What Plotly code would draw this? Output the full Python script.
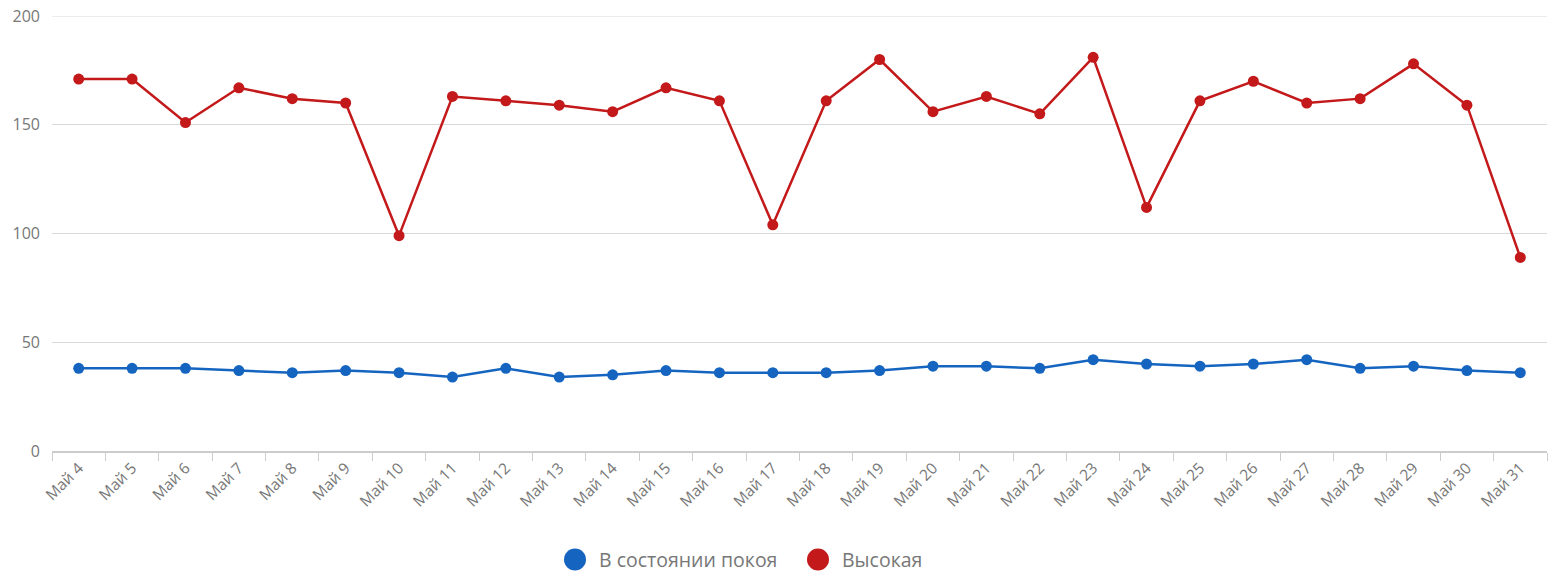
import plotly.graph_objects as go

days = list(range(4, 32))
categories = [f"Май {d}" for d in days]

rest_name = "В состоянии покоя"
rest_values = [38, 38, 38, 37, 36, 37, 36, 34, 38, 34, 35, 37, 36, 36, 36, 37, 39, 39, 38, 42, 40, 39, 40, 42, 38, 39, 37, 36]

high_name = "Высокая"
high_values = [171, 171, 151, 167, 162, 160, 99, 163, 161, 159, 156, 167, 161, 104, 161, 180, 156, 163, 155, 181, 112, 161, 170, 160, 162, 178, 159, 89]

y_ticks = [0, 50, 100, 150, 200]

BLUE = "#1565c0"
RED = "#c3191a"
FONT = "Open Sans, Noto Sans, sans-serif"
GRAY = "#777777"
GRID = "#d9d9d9"

W, H = 1553, 573
L, T, R, B = 52, 16, 6, 122
PW, PH = W - L - R, H - T - B

fig = go.Figure()
for name, vals, col in [(rest_name, rest_values, BLUE), (high_name, high_values, RED)]:
    fig.add_trace(go.Scatter(
        x=categories, y=vals, name=name, mode="lines+markers",
        line=dict(color=col, width=2.5),
        marker=dict(color=col, size=11),
        showlegend=False,
    ))

# top gridline (Plotly drops the grid line lying on the plot-area edge)
fig.add_shape(type="line", xref="paper", yref="y", x0=0, x1=1,
              y0=y_ticks[-1], y1=y_ticks[-1], layer="below",
              line=dict(color=GRID, width=1))

# custom legend (large round symbols + real text)
legend_items = [(rest_name, BLUE, 575), (high_name, RED, 818)]
leg_y = (H - B - 559.5) / PH
for name, col, cx in legend_items:
    xp = (cx - L) / PW
    fig.add_shape(type="circle", xref="paper", yref="paper",
                  xsizemode="pixel", ysizemode="pixel",
                  xanchor=xp, yanchor=leg_y, x0=-11, x1=11, y0=-11, y1=11,
                  fillcolor=col, line=dict(width=0))
    fig.add_annotation(text=name, xref="paper", yref="paper",
                       x=(cx + 22 - L) / PW, y=leg_y, xanchor="left", yanchor="middle",
                       showarrow=False, font=dict(size=19.5, color=GRAY, family=FONT))

fig.update_layout(
    width=W, height=H,
    margin=dict(l=L, r=R, t=T, b=B),
    plot_bgcolor="white", paper_bgcolor="white",
    font=dict(family=FONT, color=GRAY, size=12),
    showlegend=False,
    xaxis=dict(
        type="category", categoryorder="array", categoryarray=categories,
        tickangle=-45, tickson="boundaries", ticks="outside", ticklen=8,
        tickcolor="#cccccc", tickwidth=1,
        showline=True, linecolor="#cccccc", linewidth=2,
        showgrid=False, range=[-0.5, len(categories) - 0.5],
        tickfont=dict(size=15.5, color=GRAY), automargin=False,
    ),
    yaxis=dict(
        range=[0, 200], tickvals=y_ticks, showgrid=True, gridcolor=GRID,
        gridwidth=1, zeroline=False, showline=False, ticks="",
        ticklabelstandoff=11, ticklabeloverflow="allow",
        tickfont=dict(size=16, color=GRAY), automargin=False,
    ),
)

fig.write_html(
    "out.html",
    config={"displayModeBar": False},
    post_script="document.body.style.margin='0';document.body.style.overflow='hidden';",
)
